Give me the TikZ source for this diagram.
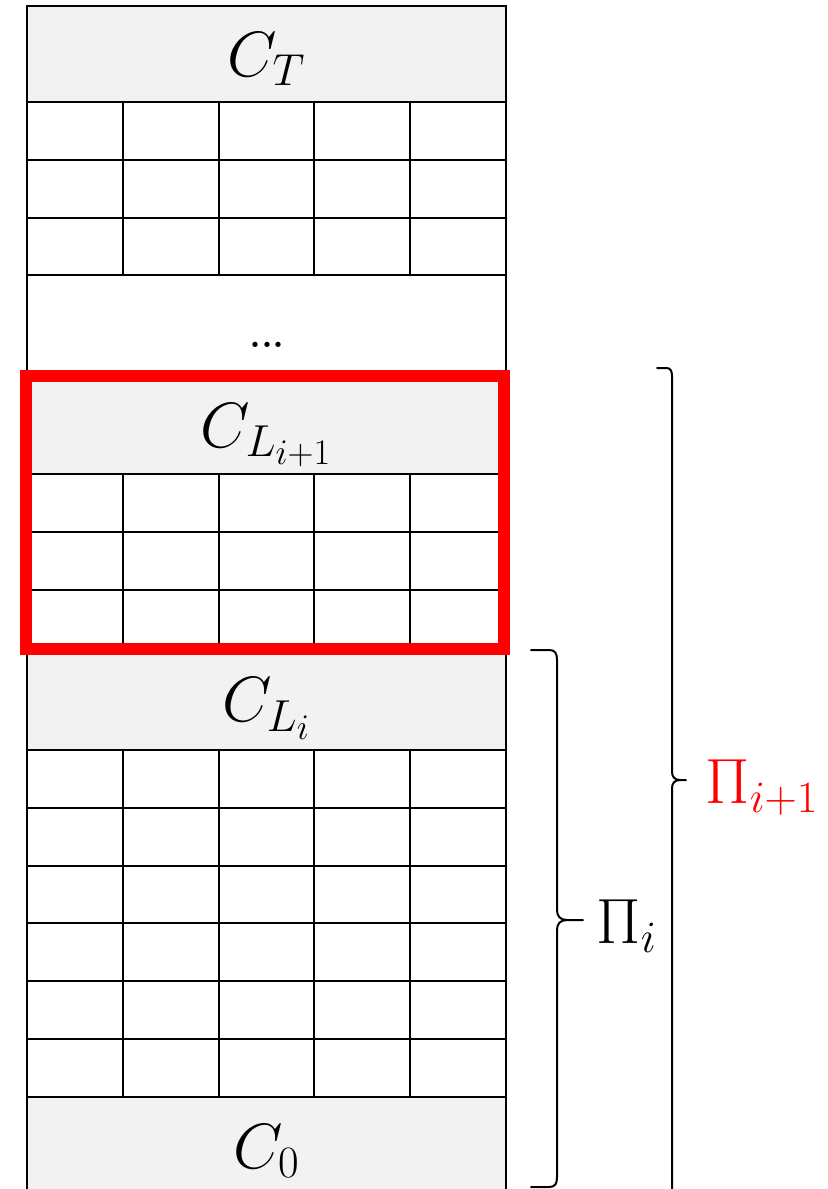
\RequirePackage{fix-cm}
\documentclass[tikz,border=0pt]{standalone}
\usetikzlibrary{positioning}
\definecolor{headgray}{HTML}{F2F2F2}
\DeclareMathSizes{32}{32}{22.4}{18}

\begin{document}
\begin{tikzpicture}[x=0.5pt,y=-0.5pt,
  every node/.style={font=\fontsize{32}{38}\selectfont},
  header/.style={draw,line width=1pt,fill=headgray,minimum width=239.5pt,
    minimum height=#1,inner sep=0pt,text height=22pt,text depth=0pt},
  cell/.style={draw,line width=1pt},
  window/.style={draw=red,line width=6pt},
  bracket/.style={draw,line width=1pt,line cap=round}]
\useasboundingbox (0,0) rectangle (828,1189);
% column sides
\draw[cell] (27,1200) -- (27,6) -- (506,6) -- (506,1200);
% cells under each header
\foreach \top/\rows in {102/3,474/3,750/6}
  \foreach \r in {1,...,\rows}
    \foreach \c in {0,...,4}
      \draw[cell] ({27+\c*95.8},{\top+(\r-1)*57.8}) rectangle ++(95.8,57.8);
% headers
\node[header=48pt] (cT) at (266.5,54) {$C_T$};
\node[anchor=base] (dots) at (267,347) {.\kern-2.4pt.\kern-2.4pt.};
\node[header=49pt] (cLnext) at (266.5,425) {$C_{L_{i+1}}$};
\node[header=50.5pt] (cL) at (266.5,699.5) {$C_{L_i}$};
\node[header=49pt] (c0) at (266.5,1146) {$C_0$};
% window
\node[window,minimum width=239pt,minimum height=136.5pt] (win) at (265,512.5) {};
% braces
\draw[bracket] (531,650) -- (549,650) .. controls (555,650) and (557,653) .. (557,660)
  -- (557,910) .. controls (557,916) and (560,920) .. (567,920) -- (583,920)
  (567,920) .. controls (560,920) and (557,924) .. (557,930)
  -- (557,1177) .. controls (557,1184) and (555,1187) .. (549,1187) -- (531,1187);
\draw[bracket] (657,368) -- (666,368) .. controls (670,368) and (672,370) .. (672,376)
  -- (672,772) .. controls (672,777) and (675,780) .. (680,780) -- (686,780)
  (680,780) .. controls (675,780) and (672,783) .. (672,788) -- (672,1200);
% labels
\node[anchor=base west,inner sep=0pt] (piA) at (596,943) {$\Pi_i$};
\node[anchor=base west,inner sep=0pt,text=red] (piB) at (705,803) {$\Pi_{i+1}$};
\end{tikzpicture}
\end{document}
